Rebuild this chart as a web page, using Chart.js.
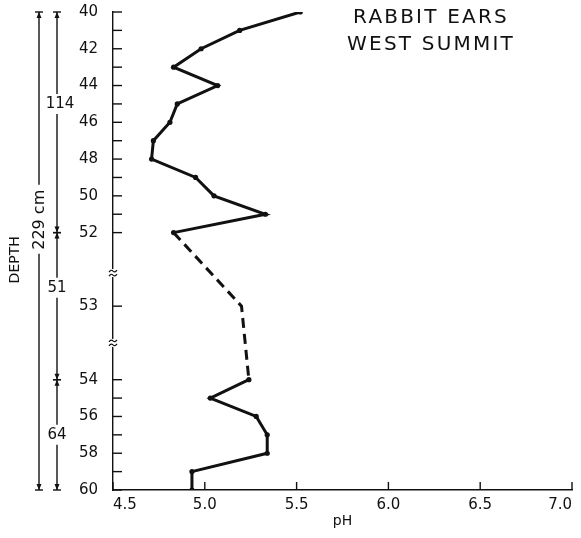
<!DOCTYPE html>
<html>
<head>
<meta charset="utf-8">
<script src="https://cdn.jsdelivr.net/npm/chart.js@4/dist/chart.umd.min.js"></script>
<style>
  html, body { margin: 0; padding: 0; background: #fff; }
  #wrap { width: 581px; height: 538px; position: relative; }
</style>
</head>
<body>
<div id="wrap"><canvas id="c" width="581" height="538"></canvas></div>
<script>
// ---- data ----
const depths = [40,41,42,43,44,45,46,47,48,49,50,51,52,53,54,55,56,57,58,59,60];
const phValues = [5.52,5.19,4.98,4.83,5.07,4.85,4.81,4.72,4.71,4.95,5.05,5.33,4.83,5.20,5.24,5.03,5.28,5.34,5.34,4.93,4.93];
const labeledDepths = [40,42,44,46,48,50,52,53,54,56,58,60];
const phTicks = [4.5,5.0,5.5,6.0,6.5,7.0];
const dashedDepths = [52,53,54];
const axisGaps = [{ after: 52, extra: 3 }, { after: 53, extra: 3 }];
const titleLines = ['RABBIT EARS', 'WEST SUMMIT'];
const xTitle = 'pH';
const depthBars = [
  { label: '114', from: 40, to: 52, at: 45 },
  { label: '51',  from: 52, to: 54, at: 52.75 },
  { label: '64',  from: 54, to: 60, at: 57 }
];
const totalDepthLabel = ['DEPTH', '229 cm'];

// depth -> axis position (compressed across breaks)
function pos(d) {
  let p = d - depths[0];
  axisGaps.forEach(g => { if (d > g.after) p += g.extra; });
  return p;
}
function posFrac(d) {
  const lo = Math.floor(d), hi = lo + 1;
  return pos(lo) + (pos(hi) - pos(lo)) * (d - lo);
}

const pts = depths.map((d, i) => ({ x: phValues[i], y: pos(d), d }));
const topPts = pts.filter(p => p.d <= dashedDepths[0]);
const midPts = pts.filter(p => dashedDepths.includes(p.d));
const botPts = pts.filter(p => p.d >= dashedDepths[dashedDepths.length - 1]);

const FONT = 'DejaVu Sans';
const INK = '#111';

const decor = {
  id: 'decor',
  afterDraw(chart) {
    const ctx = chart.ctx;
    const xs = chart.scales.x, ys = chart.scales.y;
    const ax = xs.left, ay = ys.bottom;
    ctx.save();
    ctx.strokeStyle = INK; ctx.fillStyle = INK; ctx.lineWidth = 1.4;
    ys.ticks.forEach(t => {
      const y = ys.getPixelForValue(t.value);
      ctx.beginPath(); ctx.moveTo(ax, y); ctx.lineTo(ax + 9, y); ctx.stroke();
    });
    phTicks.forEach(v => {
      const x = xs.getPixelForValue(v);
      ctx.beginPath(); ctx.moveTo(x, ay); ctx.lineTo(x, ay - 8); ctx.stroke();
    });
    // axis breaks
    [posFrac(52.55), posFrac(53.5)].forEach(p => {
      const y = ys.getPixelForValue(p);
      ctx.fillStyle = '#fff';
      ctx.fillRect(ax - 4, y - 4, 8, 8);
      ctx.fillStyle = INK;
      ctx.lineWidth = 1.2;
      [-2, 2].forEach(o => {
        ctx.beginPath();
        ctx.moveTo(ax - 4, y + o + 1);
        ctx.quadraticCurveTo(ax - 2, y + o - 2, ax, y + o);
        ctx.quadraticCurveTo(ax + 2, y + o + 2, ax + 4, y + o - 1);
        ctx.stroke();
      });
    });
    ctx.lineWidth = 1.4;
    const yTop = ys.getPixelForValue(pos(depths[0]));
    const yBot = ys.getPixelForValue(pos(depths[depths.length - 1]));
    function cap(x, y, dir) {
      ctx.beginPath(); ctx.moveTo(x - 4, y); ctx.lineTo(x + 4, y); ctx.stroke();
      ctx.beginPath(); ctx.moveTo(x - 2.5, y + dir * 6); ctx.lineTo(x + 2.5, y + dir * 6); ctx.lineTo(x, y); ctx.closePath(); ctx.fill();
    }
    const outerX = 39, innerX = 57;
    const labY = ys.getPixelForValue(posFrac(51.3));
    ctx.beginPath(); ctx.moveTo(outerX, yTop); ctx.lineTo(outerX, labY - 35); ctx.stroke();
    ctx.beginPath(); ctx.moveTo(outerX, labY + 34); ctx.lineTo(outerX, yBot); ctx.stroke();
    cap(outerX, yTop, 1); cap(outerX, yBot, -1);
    ctx.save();
    ctx.translate(outerX + 1, labY); ctx.rotate(-Math.PI / 2);
    ctx.font = '16px ' + FONT; ctx.textAlign = 'center'; ctx.textBaseline = 'middle';
    ctx.fillText(totalDepthLabel[1], 0, 0);
    ctx.restore();
    ctx.save();
    ctx.translate(15, ys.getPixelForValue(posFrac(52.37))); ctx.rotate(-Math.PI / 2);
    ctx.font = '14px ' + FONT; ctx.textAlign = 'center'; ctx.textBaseline = 'middle';
    ctx.fillText(totalDepthLabel[0], 0, 0);
    ctx.restore();
    depthBars.forEach((b) => {
      const y1 = ys.getPixelForValue(pos(b.from));
      const y2 = ys.getPixelForValue(pos(b.to));
      const ym = ys.getPixelForValue(posFrac(b.at));
      ctx.beginPath(); ctx.moveTo(innerX, y1); ctx.lineTo(innerX, ym - 10); ctx.stroke();
      ctx.beginPath(); ctx.moveTo(innerX, ym + 10); ctx.lineTo(innerX, y2); ctx.stroke();
      cap(innerX, y1, 1); cap(innerX, y2, -1);
      ctx.font = '15px ' + FONT; ctx.textAlign = 'center'; ctx.textBaseline = 'middle';
      ctx.fillText(b.label, innerX + (b.label.length > 2 ? 3 : 0), ym);
    });
    ctx.font = '20px ' + FONT; ctx.textAlign = 'center'; ctx.textBaseline = 'middle';
    try { ctx.letterSpacing = '2.2px'; } catch (e) {}
    ctx.fillText(titleLines[0], 431, 18);
    ctx.fillText(titleLines[1], 431, 45);
    ctx.restore();
  }
};

new Chart(document.getElementById('c'), {
  type: 'scatter',
  data: {
    datasets: [
      { data: topPts, showLine: true },
      { data: midPts, showLine: true, borderDash: [10, 6], pointRadius: 0 },
      { data: botPts, showLine: true }
    ]
  },
  options: {
    responsive: false,
    animation: false,
    devicePixelRatio: 1,
    layout: { autoPadding: false, padding: { top: 12, right: 9, left: 0, bottom: 0 } },
    plugins: { legend: { display: false }, tooltip: { enabled: false } },
    elements: {
      line: { borderColor: INK, borderWidth: 3, tension: 0 },
      point: { radius: 2.6, backgroundColor: INK, borderColor: INK, borderWidth: 0 }
    },
    scales: {
      x: {
        type: 'linear', min: 4.5, max: 7.0,
        afterBuildTicks: s => { s.ticks = phTicks.map(v => ({ value: v })); },
        afterFit: s => { s.height = 48; s.paddingLeft = 0; s.paddingRight = 0; },
        grid: { display: false, drawTicks: false },
        border: { display: true, color: INK, width: 1.4 },
        ticks: { color: INK, padding: 6, align: 'inner', font: { family: FONT, size: 15 }, callback: v => v.toFixed(1), maxRotation: 0 },
        title: { display: true, text: xTitle, color: INK, font: { family: FONT, size: 14 }, padding: { top: 0, bottom: 8 } }
      },
      y: {
        type: 'linear', reverse: true, min: pos(depths[0]), max: pos(depths[depths.length - 1]),
        afterBuildTicks: s => { s.ticks = depths.map(d => ({ value: pos(d) })); },
        afterFit: s => { s.width = 113; s.paddingTop = 0; s.paddingBottom = 0; },
        grid: { display: false, drawTicks: false },
        border: { display: true, color: INK, width: 1.4 },
        ticks: {
          color: INK, padding: 15, font: { family: FONT, size: 15 }, autoSkip: false,
          callback: (v) => {
            const d = depths.find(dd => pos(dd) === v);
            return labeledDepths.includes(d) ? String(d) : '';
          }
        }
      }
    }
  },
  plugins: [decor]
});
</script>
</body>
</html>
